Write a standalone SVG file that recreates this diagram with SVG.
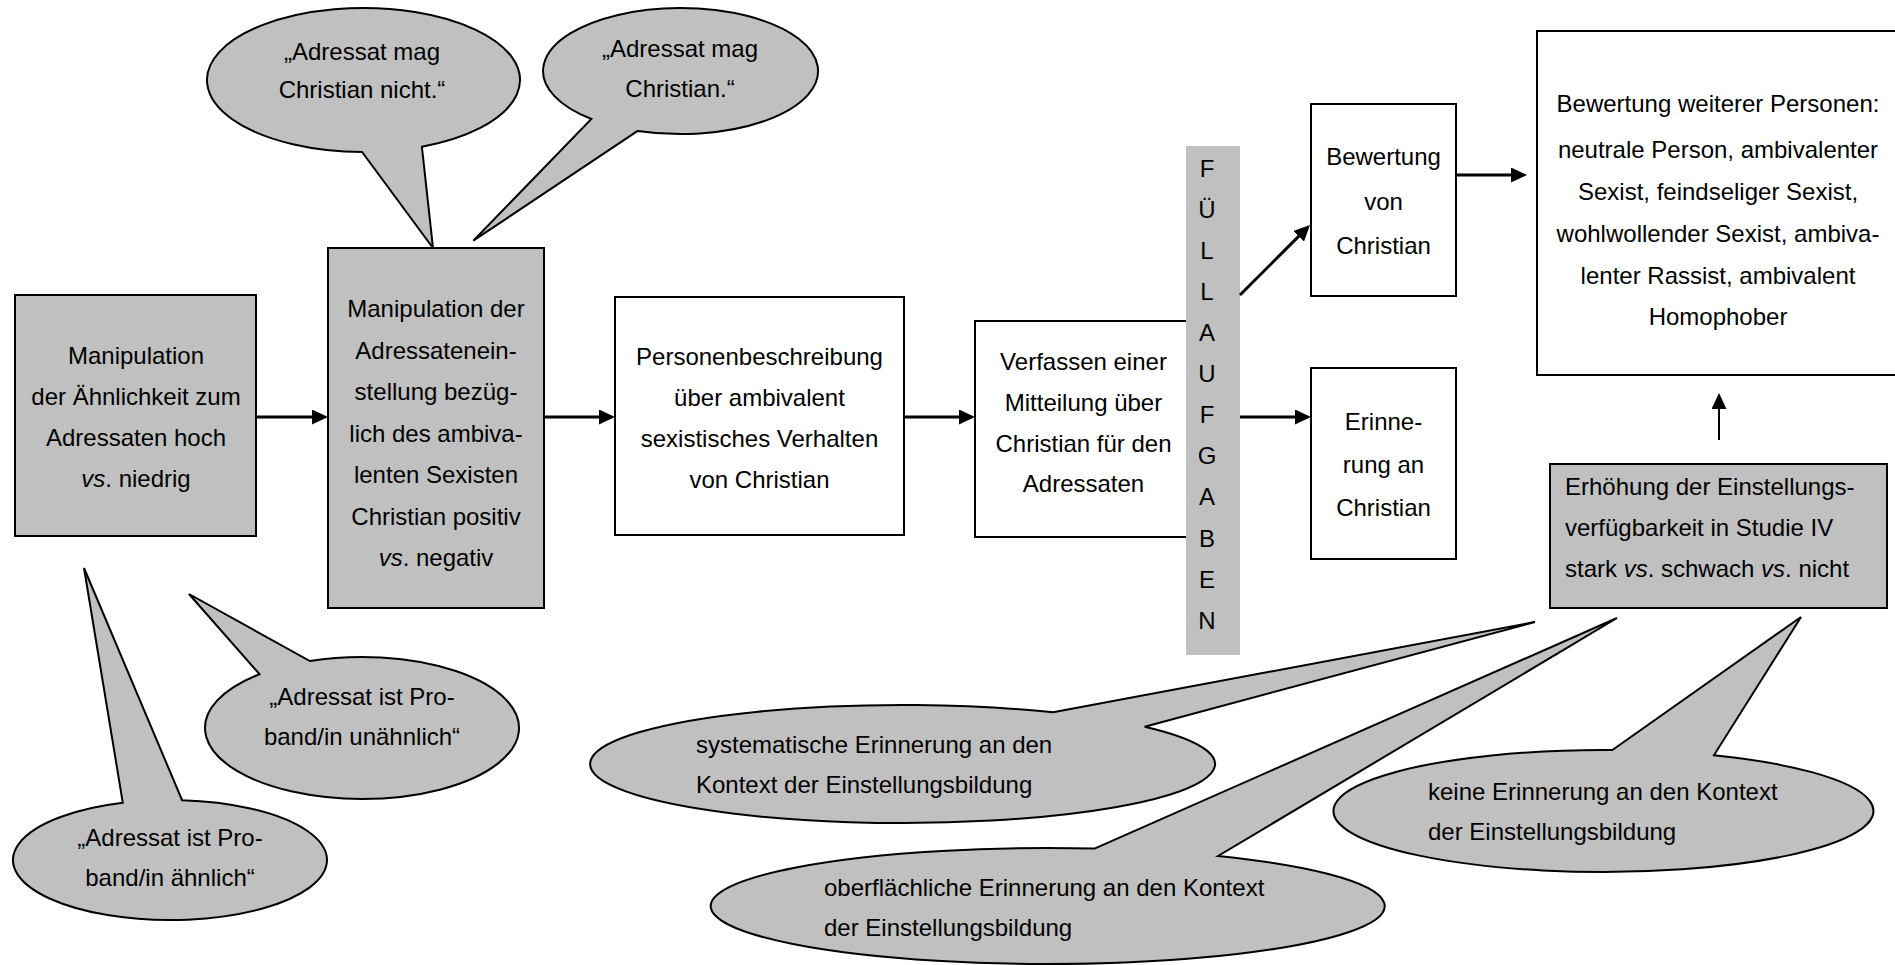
<svg xmlns="http://www.w3.org/2000/svg" width="1895" height="965" viewBox="0 0 1895 965">
<style>
  text { font-family: "Liberation Sans", Arial, sans-serif; font-size: 24px; fill: #000; }
  .c { text-anchor: middle; }
  .box { fill: #ffffff; stroke: #000; stroke-width: 2; }
  .gbox { fill: #c0c0c0; stroke: #000; stroke-width: 2; }
  .bar { fill: #c0c0c0; stroke: none; }
  .bubble { fill: #c0c0c0; stroke: #000; stroke-width: 2; stroke-linejoin: miter; }
  .conn { stroke: #000; stroke-width: 3; fill: none; marker-end: url(#ah); }
  .thin { stroke: #000; stroke-width: 2; fill: none; marker-end: url(#ah); }
  .i { font-style: italic; }
</style>
<defs>
  <marker id="ah" markerWidth="16" markerHeight="15" refX="2" refY="7.5" orient="auto" markerUnits="userSpaceOnUse">
    <path d="M0,0 L16,7.5 L0,15 Z" fill="#000"/>
  </marker>
</defs>

<g id="bubble-nicht">
  <path class="bubble" d="M362.1,152 L433,248 L421.9,146.8 A156.5,72 0 1 0 362.1,152 Z"/>
  <text class="c" x="362" y="60">„Adressat mag</text>
  <text class="c" x="362" y="98">Christian nicht.“</text>
</g>
<g id="bubble-mag">
  <path class="bubble" d="M637.7,130.9 L473.3,240.7 L591.4,119 A137.5,63 0 1 1 637.7,130.9 Z"/>
  <text class="c" x="680" y="57">„Adressat mag</text>
  <text class="c" x="680" y="97">Christian.“</text>
</g>
<g id="bubble-unaehnlich">
  <path class="bubble" d="M259.5,674.2 L189,594 L309.9,661 A157,71 0 1 1 259.5,674.2 Z"/>
  <text class="c" x="362" y="705">„Adressat ist Pro-</text>
  <text class="c" x="362" y="745">band/in unähnlich“</text>
</g>
<g id="bubble-aehnlich">
  <path class="bubble" d="M122.8,802.8 L84,568 L182.1,800.2 A157,60 0 1 1 122.8,802.8 Z"/>
  <text class="c" x="170" y="846">„Adressat ist Pro-</text>
  <text class="c" x="170" y="886">band/in ähnlich“</text>
</g>
<g id="bubble-systematisch">
  <path class="bubble" d="M1053.1,712.3 L1535,622 L1144.7,726.7 A312.5,59 0 1 1 1053.1,712.3 Z"/>
  <text x="696" y="753">systematische Erinnerung an den</text>
  <text x="696" y="793">Kontext der Einstellungsbildung</text>
</g>
<g id="bubble-keine">
  <path class="bubble" d="M1612.4,750 L1801,617 L1713.9,755.3 A270,61 0 1 1 1612.4,750 Z"/>
  <text x="1428" y="800">keine Erinnerung an den Kontext</text>
  <text x="1428" y="840">der Einstellungsbildung</text>
</g>
<g id="bubble-oberflaechlich">
  <path class="bubble" d="M1094.5,848.6 L1617,618 L1218.1,856 A337,58 0 1 1 1094.5,848.6 Z"/>
  <text x="824" y="896">oberflächliche Erinnerung an den Kontext</text>
  <text x="824" y="936">der Einstellungsbildung</text>
</g>

<g id="node-aehnlichkeit">
  <rect class="gbox" x="15" y="295" width="241" height="241"/>
  <text class="c" x="136" y="363.5">Manipulation</text>
  <text class="c" x="136" y="404.5">der Ähnlichkeit zum</text>
  <text class="c" x="136" y="445.5">Adressaten hoch</text>
  <text class="c" x="136" y="486.5"><tspan class="i">vs</tspan>. niedrig</text>
</g>
<g id="node-einstellung">
  <rect class="gbox" x="328" y="248" width="216" height="360"/>
  <text class="c" x="436" y="317">Manipulation der</text>
  <text class="c" x="436" y="358.5">Adressatenein-</text>
  <text class="c" x="436" y="400">stellung bezüg-</text>
  <text class="c" x="436" y="441.5">lich des ambiva-</text>
  <text class="c" x="436" y="483">lenten Sexisten</text>
  <text class="c" x="436" y="524.5">Christian positiv</text>
  <text class="c" x="436" y="566"><tspan class="i">vs</tspan>. negativ</text>
</g>
<g id="node-personenbeschreibung">
  <rect class="box" x="615" y="297" width="289" height="238"/>
  <text class="c" x="759.5" y="364.5">Personenbeschreibung</text>
  <text class="c" x="759.5" y="405.5">über ambivalent</text>
  <text class="c" x="759.5" y="446.5">sexistisches Verhalten</text>
  <text class="c" x="759.5" y="487.5">von Christian</text>
</g>
<g id="node-mitteilung">
  <rect class="box" x="975" y="321" width="213" height="216"/>
  <text class="c" x="1083.5" y="369.5">Verfassen einer</text>
  <text class="c" x="1083.5" y="411">Mitteilung über</text>
  <text class="c" x="1083.5" y="451.5">Christian für den</text>
  <text class="c" x="1083.5" y="491.5">Adressaten</text>
</g>
<g id="node-fuellaufgaben">
  <rect class="bar" x="1186" y="146" width="54" height="509"/>
  <text class="c" x="1207" y="176.6">F</text>
  <text class="c" x="1207" y="217.7">Ü</text>
  <text class="c" x="1207" y="258.8">L</text>
  <text class="c" x="1207" y="299.9">L</text>
  <text class="c" x="1207" y="341">A</text>
  <text class="c" x="1207" y="382.1">U</text>
  <text class="c" x="1207" y="423.2">F</text>
  <text class="c" x="1207" y="464.3">G</text>
  <text class="c" x="1207" y="505.4">A</text>
  <text class="c" x="1207" y="546.5">B</text>
  <text class="c" x="1207" y="587.6">E</text>
  <text class="c" x="1207" y="628.7">N</text>
</g>
<g id="node-bewertung-christian">
  <rect class="box" x="1311" y="104" width="145" height="192"/>
  <text class="c" x="1383.5" y="165">Bewertung</text>
  <text class="c" x="1383.5" y="209.5">von</text>
  <text class="c" x="1383.5" y="254">Christian</text>
</g>
<g id="node-erinnerung">
  <rect class="box" x="1311" y="368" width="145" height="191"/>
  <text class="c" x="1383.5" y="430">Erinne-</text>
  <text class="c" x="1383.5" y="473">rung an</text>
  <text class="c" x="1383.5" y="516">Christian</text>
</g>
<g id="node-bewertung-weitere">
  <rect class="box" x="1537" y="31" width="362" height="344"/>
  <text class="c" x="1718" y="112">Bewertung weiterer Personen:</text>
  <text class="c" x="1718" y="158">neutrale Person, ambivalenter</text>
  <text class="c" x="1718" y="200">Sexist, feindseliger Sexist,</text>
  <text class="c" x="1718" y="242">wohlwollender Sexist, ambiva-</text>
  <text class="c" x="1718" y="284">lenter Rassist, ambivalent</text>
  <text class="c" x="1718" y="325">Homophober</text>
</g>
<g id="node-erhoehung">
  <rect class="gbox" x="1550" y="464" width="337" height="144"/>
  <text x="1565" y="495">Erhöhung der Einstellungs-</text>
  <text x="1565" y="536">verfügbarkeit in Studie IV</text>
  <text x="1565" y="577">stark <tspan class="i">vs</tspan>. schwach <tspan class="i">vs</tspan>. nicht</text>
</g>

<g id="connectors">
  <path class="conn" d="M256,417 H314"/>
  <path class="conn" d="M544,417 H601"/>
  <path class="conn" d="M904,417 H961"/>
  <path class="conn" d="M1240,417 H1297"/>
  <path class="conn" d="M1240,295 L1300.1,234.9"/>
  <path class="conn" d="M1456,175 H1513"/>
  <path class="thin" d="M1719,440 V407"/>
</g>
</svg>
